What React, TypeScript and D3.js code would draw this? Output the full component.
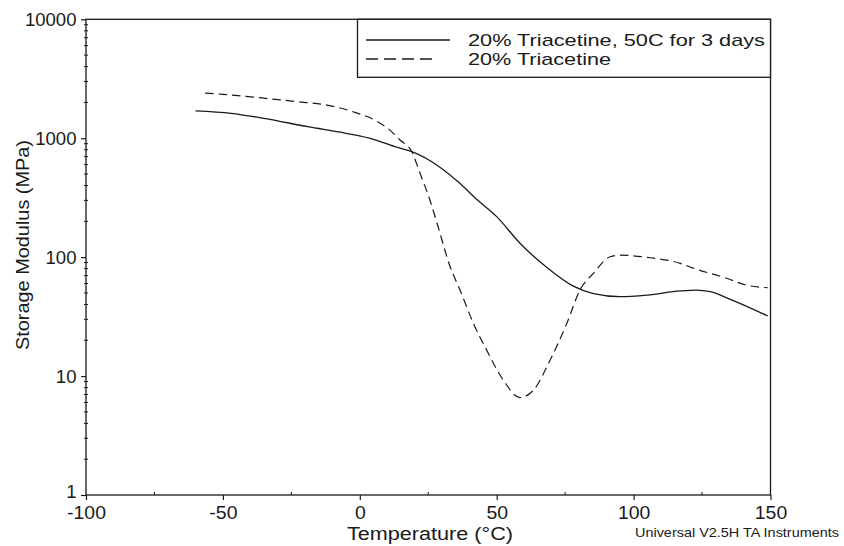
import React, { useEffect, useRef } from 'react';
import * as d3 from 'd3';

// 20% Triacetine, 50C for 3 days (solid)
const agedTemp = [-60, -47, -35, -19, -5, 5, 13.5, 19, 29, 36, 43, 50, 58.5, 68, 78, 85, 95, 105, 117, 123, 128, 136, 149];
const agedModulus = [1700, 1620, 1470, 1250, 1100, 980, 840, 770, 576, 428, 302, 219, 131, 83, 57, 49.6, 46.5, 48, 52, 52.9, 51.2, 43.5, 32];

// 20% Triacetine (dashed)
const freshTemp = [-56.5, -50, -35, -23, -12, -2.5, 6, 11, 14.7, 19, 22, 25.6, 28.6, 33, 36.6, 41.5, 46.3, 52.4, 58.5, 63.4, 69.5, 75.6, 80.4, 85.3, 91.4, 95, 105, 117, 122, 134, 141, 149];
const freshModulus = [2390, 2340, 2170, 2030, 1900, 1670, 1400, 1170, 966, 770, 507, 302, 180, 83, 52.9, 27.7, 16.6, 9.25, 6.6, 7.6, 13.6, 27.7, 52.9, 73, 100.7, 104, 99.6, 88.7, 80.5, 66.4, 58.3, 55.3];

const xTicks = [-100, -50, 0, 50, 100, 150];
const xMinorTicks = [-75, -25, 25, 75, 125];
const yTicks = [1, 10, 100, 1000, 10000];
const legendLabels = ['20% Triacetine, 50C for 3 days', '20% Triacetine'];

const FONT = "'Liberation Sans', Arial, Helvetica, sans-serif";
const INK = '#1a1a1a';

const App = () => {
  const svgRef = useRef(null);

  useEffect(() => {
    const width = 844, height = 546;
    const left = 86, right = 770.5, top = 19.3, bottom = 495;

    const svg = d3.select(svgRef.current)
      .attr('width', width)
      .attr('height', height);
    svg.selectAll('*').remove();

    svg.append('rect').attr('width', width).attr('height', height).attr('fill', 'white');

    const x = d3.scaleLinear().domain([-100, 150]).range([left, right]);
    const y = d3.scaleLog().domain([1, 10000]).range([bottom, top]);

    // minor ticks on y (2..9 per decade)
    const yMinor: number[] = [];
    for (let d = 1; d < 10000; d *= 10) for (let k = 2; k <= 9; k++) yMinor.push(d * k);

    const minorY = svg.append('g').attr('transform', `translate(${left},0)`);
    minorY.selectAll('line').data(yMinor).join('line')
      .attr('x1', -2).attr('x2', 2)
      .attr('y1', d => y(d)).attr('y2', d => y(d))
      .attr('stroke', INK).attr('stroke-width', 1);

    const minorX = svg.append('g').attr('transform', `translate(0,${bottom})`);
    minorX.selectAll('line').data(xMinorTicks).join('line')
      .attr('x1', d => x(d)).attr('x2', d => x(d))
      .attr('y1', 0).attr('y2', -3)
      .attr('stroke', INK).attr('stroke-width', 1);

    // frame
    svg.append('rect')
      .attr('x', left).attr('y', top)
      .attr('width', right - left).attr('height', bottom - top)
      .attr('fill', 'none').attr('stroke', INK).attr('stroke-width', 1.3);

    // axes
    const xAxis = svg.append('g')
      .attr('transform', `translate(0,${bottom})`)
      .call(d3.axisBottom(x).tickValues(xTicks).tickFormat(d => String(d)).tickSize(5).tickSizeOuter(0).tickPadding(6.5));
    xAxis.select('.domain').remove();
    xAxis.selectAll('.tick line').attr('stroke', INK).attr('stroke-width', 1.2);
    xAxis.selectAll('text')
      .style('font-family', FONT)
      .style('font-size', '18px')
      .attr('fill', INK)
      .attr('transform', 'scale(1.08,1)');

    const yAxis = svg.append('g')
      .attr('transform', `translate(${left},0)`)
      .call(d3.axisLeft(y).tickValues(yTicks).tickFormat(d => String(d)).tickSize(5).tickSizeOuter(0).tickPadding(4));
    yAxis.select('.domain').remove();
    yAxis.selectAll('.tick line').attr('stroke', INK).attr('stroke-width', 1.2);
    yAxis.selectAll('text')
      .style('font-family', FONT)
      .style('font-size', '17.5px')
      .attr('fill', INK)
      .attr('dy', (d: any) => (d === 1 ? '0.12em' : '0.34em'))
      .attr('transform', 'scale(1.06,1)');

    // curves
    const line = d3.line<[number, number]>()
      .x(d => x(d[0]))
      .y(d => y(d[1]))
      .curve(d3.curveMonotoneX);

    svg.append('path')
      .datum(agedTemp.map((t, i) => [t, agedModulus[i]] as [number, number]))
      .attr('fill', 'none')
      .attr('stroke', INK)
      .attr('stroke-width', 1.3)
      .attr('d', line);

    svg.append('path')
      .datum(freshTemp.map((t, i) => [t, freshModulus[i]] as [number, number]))
      .attr('fill', 'none')
      .attr('stroke', INK)
      .attr('stroke-width', 1.2)
      .attr('stroke-dasharray', '8.5,5')
      .attr('d', line);

    // legend
    const legend = svg.append('g');
    legend.append('rect')
      .attr('x', 357.5).attr('y', top)
      .attr('width', right - 357.5).attr('height', 58)
      .attr('fill', 'white').attr('stroke', INK).attr('stroke-width', 1.3);
    legend.append('line')
      .attr('x1', 366).attr('x2', 450).attr('y1', 40).attr('y2', 40)
      .attr('stroke', INK).attr('stroke-width', 1.3);
    legend.append('line')
      .attr('x1', 366).attr('x2', 432).attr('y1', 59).attr('y2', 59)
      .attr('stroke', INK).attr('stroke-width', 1.3).attr('stroke-dasharray', '12,6');
    legend.selectAll('text').data(legendLabels).join('text')
      .attr('x', 468)
      .attr('y', (d, i) => 46 + i * 19)
      .attr('textLength', (d, i) => (i === 0 ? 297 : 143))
      .attr('lengthAdjust', 'spacingAndGlyphs')
      .style('font-family', FONT)
      .style('font-size', '17px')
      .attr('fill', INK)
      .text(d => d);

    // titles
    svg.append('text')
      .attr('x', 347).attr('y', 539.5)
      .attr('textLength', 166).attr('lengthAdjust', 'spacingAndGlyphs')
      .style('font-family', FONT).style('font-size', '17.5px')
      .attr('fill', INK)
      .text('Temperature (°C)');

    svg.append('text')
      .attr('transform', 'translate(28.5,350) rotate(-90)')
      .attr('textLength', 210).attr('lengthAdjust', 'spacingAndGlyphs')
      .style('font-family', FONT).style('font-size', '19px')
      .attr('fill', INK)
      .text('Storage Modulus (MPa)');

    svg.append('text')
      .attr('x', 635).attr('y', 537)
      .attr('textLength', 204).attr('lengthAdjust', 'spacingAndGlyphs')
      .style('font-family', FONT).style('font-size', '13px')
      .attr('fill', INK)
      .text('Universal V2.5H TA Instruments');
  }, []);

  return (
    <svg ref={svgRef} style={{ position: 'absolute', left: 0, top: 0, display: 'block' }}></svg>
  );
};

export default App;
